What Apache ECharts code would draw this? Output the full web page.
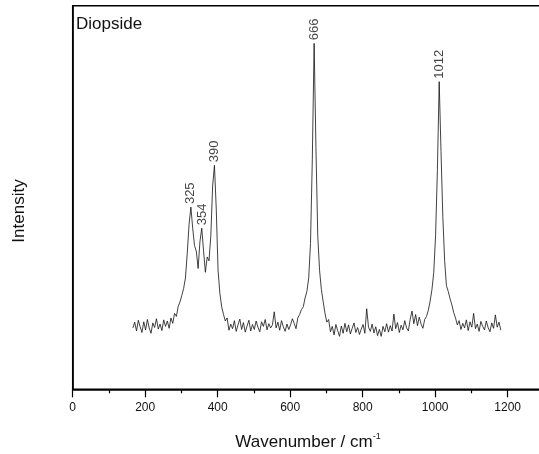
<!DOCTYPE html>
<html>
<head>
<meta charset="utf-8">
<script src="https://cdn.jsdelivr.net/npm/echarts@6/dist/echarts.min.js"></script>
<style>
  html, body { margin: 0; padding: 0; background: #fff; overflow: hidden; }
  /* wider than the window so the plot frame runs off the right edge */
  #main { width: 620px; height: 454px; }
</style>
</head>
<body>
<div id="main"></div>
<script>
// Raman spectrum, sampled every 5 cm-1 from 166 to 1181
const waveStart = 166
const waveStep = 5
const intensity = [
  16.0, 17.5, 15.2, 18.0, 16.3, 14.8, 17.6, 15.5, 18.2, 16.0,
  14.6, 17.3, 16.1, 18.4, 15.7, 17.0, 15.3, 18.1, 16.4, 17.8,
  15.9, 18.6, 17.2, 19.8, 19.0, 21.6, 22.8, 24.5, 26.3, 29.0,
  35.5, 43.0, 47.5, 42.0, 37.5, 36.0, 31.5, 38.5, 42.0, 36.0,
  30.5, 34.5, 33.5, 40.0, 53.0, 58.4, 47.0, 31.0, 25.0, 21.5,
  19.5, 17.8, 18.6, 15.4, 17.0, 15.8, 17.9, 15.1, 16.8, 18.3,
  15.6, 17.4, 14.9, 16.5, 18.0, 15.2, 16.9, 15.6, 17.8, 16.2,
  15.0, 17.6, 16.4, 18.2, 15.5, 17.1, 16.0, 16.8, 20.2, 16.0,
  17.5, 15.4, 17.9, 16.3, 15.1, 17.0, 15.6, 16.8, 18.4, 17.2,
  15.8, 18.6, 19.5, 20.8, 21.5, 23.8, 25.5, 29.0, 38.0, 60.0,
  90.2, 63.0, 40.0, 31.0, 26.0, 22.8, 19.8, 17.5, 18.2, 15.0,
  16.4, 14.2, 16.9, 15.3, 13.8, 16.5, 14.6, 17.2, 15.0, 16.8,
  14.4, 15.9, 17.3, 14.8, 16.1, 14.3, 15.7, 16.9, 14.6, 21.0,
  16.2, 15.1, 17.0, 14.7, 16.3, 14.0, 15.6, 13.8, 16.4, 15.0,
  17.1, 14.9, 16.6, 15.2, 19.6, 15.8, 17.4, 14.8, 16.7, 15.5,
  17.9, 16.0, 15.2, 18.3, 20.4, 17.1, 19.5, 16.6, 18.8, 17.0,
  15.9, 18.2, 19.0, 20.6, 23.0, 26.0, 30.5, 40.0, 57.0, 80.2,
  62.0, 45.0, 33.5, 27.0, 25.5, 23.6, 22.0, 20.0, 18.6, 16.8,
  17.9, 15.6, 17.2, 16.0, 18.1, 15.3, 17.6, 16.2, 19.8, 15.8,
  17.0, 15.1, 17.7, 16.4, 15.5, 17.8, 16.1, 15.0, 17.3, 15.9,
  19.4, 16.2, 17.5, 15.4
]

// peak annotations
const peakWave = [324, 357, 391, 666, 1012]
const peakTop = [47.5, 42.0, 58.4, 90.2, 80.2]
const peakText = ['325', '354', '390', '666', '1012']

const xTicks = { min: 0, max: 1400, interval: 200 }

const font = '"Liberation Sans", Arial, Helvetica, sans-serif'

const spectrum = intensity.map((v, i) => [waveStart + i * waveStep, v])
const peaks = peakWave.map((w, i) => [w, peakTop[i], peakText[i]])

const myChart = echarts.init(document.getElementById('main'))
const option = {
  animation: false,
  backgroundColor: '#fff',
  textStyle: { fontFamily: font },
  grid: {
    left: 72.7,
    top: 5.7,
    bottom: 64.7,
    right: 39.8,
    show: true,
    borderColor: '#000',
    borderWidth: 1.5,
    backgroundColor: 'transparent'
  },
  xAxis: {
    type: 'value',
    min: xTicks.min,
    max: xTicks.max,
    interval: xTicks.interval,
    axisLine: { show: true, onZero: false, lineStyle: { color: '#000', width: 1.5 } },
    axisTick: { show: true, inside: false, length: 8, lineStyle: { color: '#000', width: 1.2 } },
    minorTick: { show: true, splitNumber: 2, length: 4, lineStyle: { color: '#000', width: 1.2 } },
    axisLabel: { color: '#111', fontSize: 12, margin: 12, fontFamily: font, formatter: v => String(v) },
    splitLine: { show: false }
  },
  yAxis: {
    type: 'value',
    min: 0,
    max: 100,
    axisLine: { show: true, lineStyle: { color: '#000', width: 1.5 } },
    axisTick: { show: false },
    axisLabel: { show: false },
    splitLine: { show: false }
  },
  graphic: [
    {
      type: 'text', left: 76, top: 16,
      style: { text: 'Diopside', fontSize: 17, fontFamily: font, fill: '#111' }
    },
    {
      type: 'text', x: 19, y: 211, rotation: Math.PI / 2,
      style: { text: 'Intensity', fontSize: 17, fontFamily: font, fill: '#111', align: 'center', verticalAlign: 'middle' }
    },
    {
      type: 'text', x: 308, y: 442,
      style: {
        text: '{a|Wavenumber / cm}{b|-1}',
        align: 'center', verticalAlign: 'middle',
        rich: {
          a: { fontSize: 17, fontFamily: font, fill: '#111', lineHeight: 20 },
          b: { fontSize: 9, fontFamily: font, fill: '#111', verticalAlign: 'top', lineHeight: 9 }
        }
      }
    }
  ],
  series: [
    {
      type: 'line',
      data: spectrum,
      showSymbol: false,
      symbol: 'none',
      lineStyle: { color: '#111', width: 0.8 },
      silent: true
    },
    {
      type: 'scatter',
      data: peaks,
      symbolSize: 0,
      silent: true,
      label: {
        show: true,
        formatter: p => p.data[2],
        position: 'top',
        distance: 3,
        rotate: 90,
        align: 'left',
        verticalAlign: 'middle',
        fontSize: 13,
        fontFamily: font,
        color: '#111'
      }
    }
  ]
}
myChart.setOption(option)
</script>
</body>
</html>
